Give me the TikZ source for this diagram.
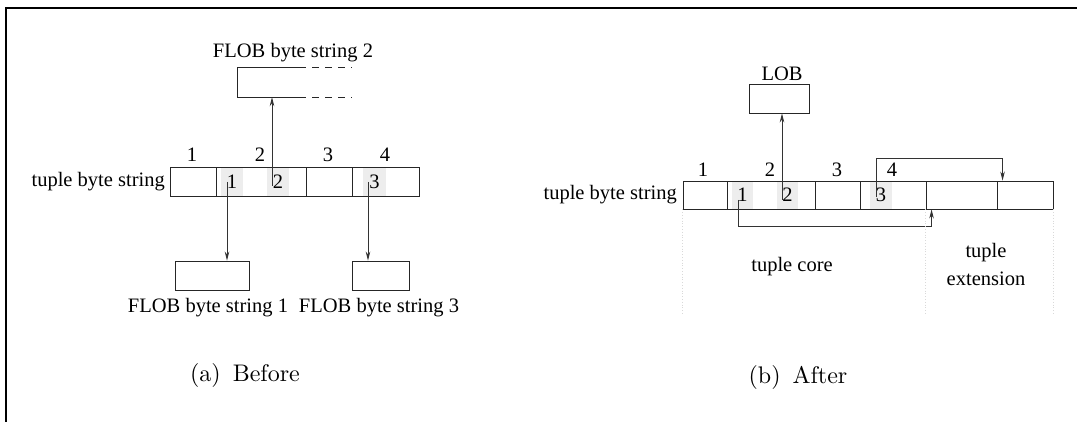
\documentclass[tikz,border=0pt]{standalone}
\usepackage{fontspec}
\newfontfamily\figfont{Liberation Serif}
\usetikzlibrary{arrows.meta}

\begin{document}
\begin{tikzpicture}[x=1pt, y=-1pt,
  lbl/.style={font=\figfont\fontsize{20.5}{24}\selectfont, inner sep=0pt},
  cell/.style={draw=black!85, line width=0.9pt, minimum height=29pt, inner sep=0pt},
  hilite/.style={fill=black!7, minimum height=29pt, minimum width=22pt, inner sep=0pt, font=\figfont\fontsize{20.5}{24}\selectfont},
  ptr/.style={draw=black!80, line width=0.9pt, -{Stealth[length=9pt,width=4.5pt]}},
  guide/.style={draw=black!15, dotted, line width=0.8pt},
  subcap/.style={font=\fontsize{10}{12}\selectfont, inner sep=0pt, scale=2.4, transform shape}]
\useasboundingbox (0,0) rectangle (1077,422);
\draw[line width=2pt] (6,422) -- (6,8) -- (1077,8);

% (a) before
\node[lbl, anchor=east] (tbs) at (165,182) {tuple byte string};
\node[hilite] (h1) at (232,181.5) {1};
\node[hilite] (h2) at (278,181.5) {2};
\node[hilite, minimum width=23pt] (h3) at (374.5,181.5) {3};
\node[cell, minimum width=46pt] (a1) at (193,181.5) {};
\node[cell, minimum width=90pt] (a2) at (261,181.5) {};
\node[cell, minimum width=46pt] (a3) at (329,181.5) {};
\node[cell, minimum width=67pt] (a4) at (385.5,181.5) {};
\node[lbl] (n1) at (192,155) {1};
\node[lbl] (n2) at (260,155) {2};
\node[lbl] (n3) at (328,155) {3};
\node[lbl] (n4) at (385,155) {4};

\node[minimum width=61pt, minimum height=29pt, inner sep=0pt] (f2) at (268.5,82.5) {};
\draw[draw=black!85, line width=0.9pt] (f2.north east) -- (f2.north west) -- (f2.south west) -- (f2.south east);
\draw[draw=black!85, line width=0.9pt, dash pattern=on 7pt off 6pt] (f2.north east) -- ++(53,0);
\draw[draw=black!85, line width=0.9pt, dash pattern=on 7pt off 6pt] (f2.south east) -- ++(53,0);
\node[lbl] (f2l) at (293,53) {FLOB byte string 2};

\node[cell, minimum width=74pt] (f1) at (212,275.5) {};
\node[cell, minimum width=57pt] (f3) at (380.5,275.5) {};
\node[lbl] (f1l) at (208,308) {FLOB byte string 1};
\node[lbl] (f3l) at (379,308) {FLOB byte string 3};

\coordinate (p1) at (227,182);
\coordinate (p2) at (272,186);
\coordinate (p3) at (368,182);
\draw[ptr] (p1) -- (p1 |- f1.north);
\draw[ptr] (p2) -- (p2 |- f2.south);
\draw[ptr] (p3) -- (p3 |- f3.north);

\node[subcap] (capa) at (245,375) {(a)\hspace{.5em}Before};

% (b) after
\node[lbl, anchor=east] (tbs2) at (677,195) {tuple byte string};
\node[hilite, minimum height=28pt, minimum width=21pt] (k1) at (742.5,195) {1};
\node[hilite, minimum height=28pt, minimum width=21pt] (k2) at (787.5,195) {2};
\node[hilite, minimum height=28pt] (k3) at (881,195) {3};
\node[cell, minimum height=28pt, minimum width=44pt] (b1) at (705,195) {};
\node[cell, minimum height=28pt, minimum width=88pt] (b2) at (771,195) {};
\node[cell, minimum height=28pt, minimum width=45pt] (b3) at (837.5,195) {};
\node[cell, minimum height=28pt, minimum width=66pt] (b4) at (893,195) {};
\node[cell, minimum height=28pt, minimum width=71pt] (b5) at (961.5,195) {};
\node[cell, minimum height=28pt, minimum width=56pt] (b6) at (1025,195) {};
\node[lbl] (m1) at (703,170) {1};
\node[lbl] (m2) at (770,170) {2};
\node[lbl] (m3) at (837,170) {3};
\node[lbl] (m4) at (892,170) {4};

\node[cell, minimum width=60pt] (lob) at (779,98.5) {};
\node[lbl] (lobl) at (782,74) {LOB};

\coordinate (q1) at (738,200);
\coordinate (q2) at (782,200);
\coordinate (q3) at (876,197);
\draw[ptr] (q2) -- (q2 |- lob.south);
\draw[ptr] (q3) -- ++(0,-39) -| ([xshift=6pt]b6.north west);
\draw[ptr] (q1) -- ++(0,26) -| ([xshift=6pt]b5.south west);

\draw[guide] (b1.south west) -- ++(0,104);
\draw[guide] (b5.south west) -- ++(0,104);
\draw[guide] (b6.south east) -- ++(0,104);
\node[lbl] (core) at (792,267) {tuple core};
\node[lbl, align=center] (ext) at (986,264) {tuple\\[4pt]extension};

\node[subcap] (capb) at (798,377) {(b)\hspace{.5em}After};
\end{tikzpicture}
\end{document}
